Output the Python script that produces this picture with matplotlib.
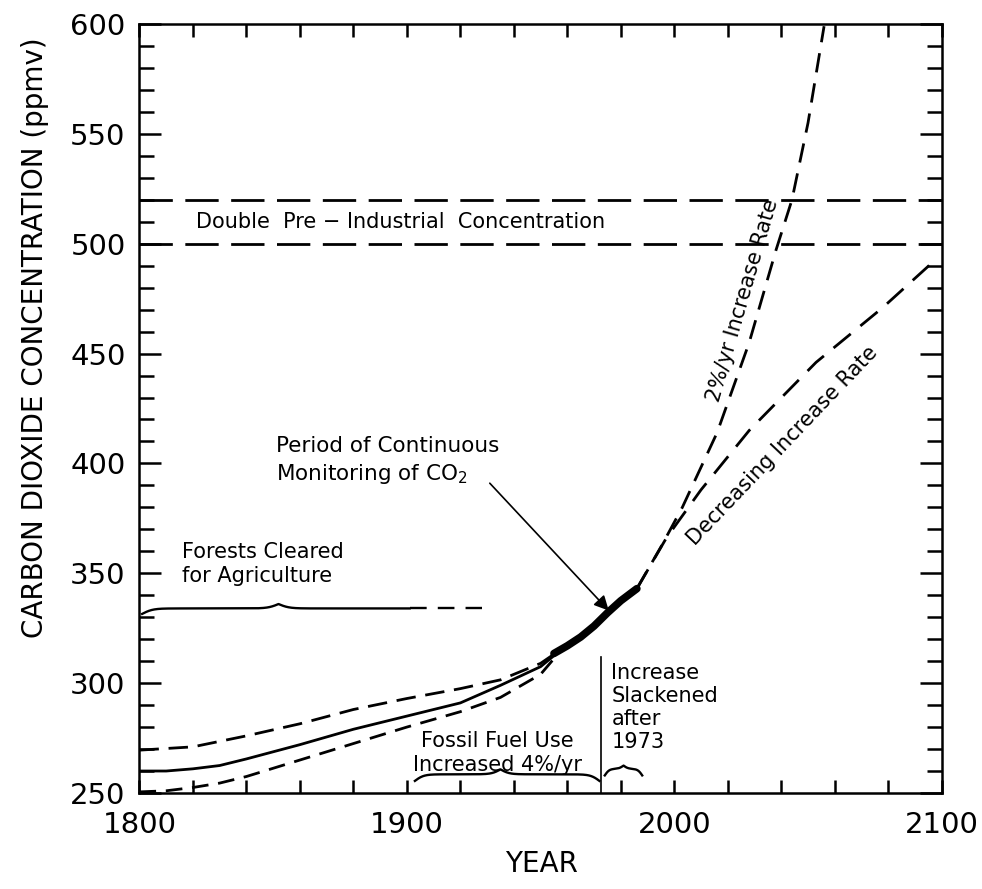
import numpy as np
import matplotlib
matplotlib.use("Agg")
import matplotlib.pyplot as plt
from matplotlib.ticker import MultipleLocator

plt.rcParams['lines.scale_dashes'] = False
plt.rcParams['font.family'] = ['DejaVu Sans']

# historical reconstruction (years, ppmv)
upper_years = [1800, 1820, 1840, 1860, 1880, 1900, 1920, 1935, 1950, 1956]
upper_ppm = [269.5, 271, 276, 281.5, 288, 293, 297.5, 301.5, 309, 314]
solid_years = [1800, 1810, 1820, 1830, 1840, 1860, 1880, 1900, 1920, 1935, 1950, 1956]
solid_ppm = [260, 260, 261, 262.5, 265.5, 272, 279, 285, 291, 299, 307.5, 313.5]
lower_years = [1800, 1810, 1820, 1830, 1840, 1860, 1880, 1900, 1920, 1935, 1950, 1957]
lower_ppm = [250.5, 251, 252.5, 254.5, 257.5, 265, 272.5, 280, 287, 293.5, 304, 314]

# period of continuous monitoring
mon_years = [1955, 1960, 1965, 1970, 1975, 1980, 1986]
mon_ppm = [313.5, 317, 321, 326, 332, 337.5, 343]

# projections
two_pct_years = [1986, 1995, 2003, 2016, 2028, 2038, 2044, 2050, 2056]
two_pct_ppm = [343, 362, 380, 414, 455, 497, 520, 555, 599]
decr_years = [1986, 1997, 2010, 2028, 2053, 2078, 2097]
decr_ppm = [343, 366, 388, 415, 446, 471, 492]

double_levels = [500, 520]

x_ticks = [1800, 1900, 2000, 2100]
x_tick_labels = ['1800', '1900', '2000', '2100']

# braces: (start, tip, end, level)
forest_brace = (1801, 1852, 1901, 334)
forest_dash_end = 1928
fossil_brace = (1903, 1935, 1972, 258.5)
slack_brace = (1974, 1981, 1988, 261)
slack_year = 1972.5
slack_top = 312


def brace(x0, xm, x1, level, end_drop=3.5, tip=4.5, beta=0.9, right_end=True):
    xa = np.linspace(x0, xm, 200)
    ya = level + end_drop * (1 / (1 + np.exp(-beta * (xa - x0))) - 1) \
        + tip * 1 / (1 + np.exp(-beta * (xa - xm)))
    xb = np.linspace(xm, x1, 200)
    drop_b = end_drop if right_end else 0
    yb = level + drop_b * (1 / (1 + np.exp(beta * (xb - x1))) - 1) \
        + tip * 1 / (1 + np.exp(beta * (xb - xm)))
    return np.concatenate([xa, xb]), np.concatenate([ya, yb])


fig = plt.figure(figsize=(9.82, 8.89), dpi=100)
ax = fig.add_axes([0.142, 0.108, 0.817, 0.865])

lw = 2.0
ax.plot(upper_years, upper_ppm, color='k', lw=lw, dashes=(14, 7))
ax.plot(solid_years, solid_ppm, color='k', lw=lw)
ax.plot(lower_years, lower_ppm, color='k', lw=lw, dashes=(12, 7))
ax.plot(mon_years, mon_ppm, color='k', lw=5.5, solid_capstyle='round')
ax.plot(two_pct_years, two_pct_ppm, color='k', lw=lw, dashes=(14, 8))
ax.plot(decr_years, decr_ppm, color='k', lw=lw, dashes=(16, 9))

for lev in double_levels:
    ax.axhline(lev, color='k', lw=lw, dashes=(24, 9))

# forests cleared bracket
bx, by = brace(*forest_brace, end_drop=5, tip=4, beta=0.5, right_end=False)
ax.plot(bx, by, color='k', lw=1.7)
ax.plot([forest_brace[2], forest_dash_end], [forest_brace[3], forest_brace[3]],
        color='k', lw=1.7, dashes=(12, 8))

# fossil fuel bracket
bx, by = brace(*fossil_brace, end_drop=6, tip=4.5, beta=0.6)
ax.plot(bx, by, color='k', lw=1.7)
bx, by = brace(*slack_brace, end_drop=6, tip=3, beta=1.2)
ax.plot(bx, by, color='k', lw=1.7)
ax.plot([slack_year, slack_year], [250, slack_top], color='k', lw=1.2)

# text
fs = 15
ax.text(1821, 510, 'Double  Pre \u2212 Industrial  Concentration', fontsize=15,
        va='center', ha='left')
ax.text(1851, 401, 'Period of Continuous\nMonitoring of CO$_2$', fontsize=15.5,
        va='center', ha='left', linespacing=1.35)
ax.annotate('', xy=(1975.5, 333), xytext=(1931, 391),
            arrowprops=dict(arrowstyle='-|>', color='k', lw=1.2,
                            mutation_scale=22, shrinkA=0, shrinkB=0))
ax.text(1816, 354, 'Forests Cleared\nfor Agriculture', fontsize=fs,
        va='center', ha='left', linespacing=1.25)
ax.text(1934, 268, 'Fossil Fuel Use\nIncreased 4%/yr', fontsize=fs,
        va='center', ha='center', linespacing=1.25)
ax.text(1976.5, 289, 'Increase\nSlackened\nafter\n1973', fontsize=fs,
        va='center', ha='left', linespacing=1.2)
ax.text(2025.6, 474, '2%/yr Increase Rate', fontsize=fs, rotation=73.7,
        rotation_mode='anchor', va='center', ha='center')
ax.text(2040.6, 408, 'Decreasing Increase Rate', fontsize=fs, rotation=46.4,
        rotation_mode='anchor', va='center', ha='center')

ax.set_xlim(1800, 2100)
ax.set_ylim(250, 600)
ax.set_xticks(x_ticks, labels=x_tick_labels, fontsize=21)
ax.xaxis.set_minor_locator(MultipleLocator(20))
ax.yaxis.set_major_locator(MultipleLocator(50))
ax.yaxis.set_minor_locator(MultipleLocator(10))
ax.tick_params(which='both', direction='in', top=True, right=True, width=1.8)
ax.tick_params(axis='x', which='both', length=9.5)
ax.tick_params(axis='y', which='major', length=16, labelsize=21, pad=10)
ax.tick_params(axis='y', which='minor', length=11)
ax.tick_params(axis='x', which='major', pad=13)
for s in ax.spines.values():
    s.set_linewidth(1.8)

fig.text(0.036, 0.62, 'CARBON DIOXIDE CONCENTRATION (ppmv)', rotation=90,
         fontsize=20, ha='center', va='center')
fig.text(0.551, 0.028, 'YEAR', fontsize=20, ha='center', va='center')

fig.savefig('out.png', dpi=100)
